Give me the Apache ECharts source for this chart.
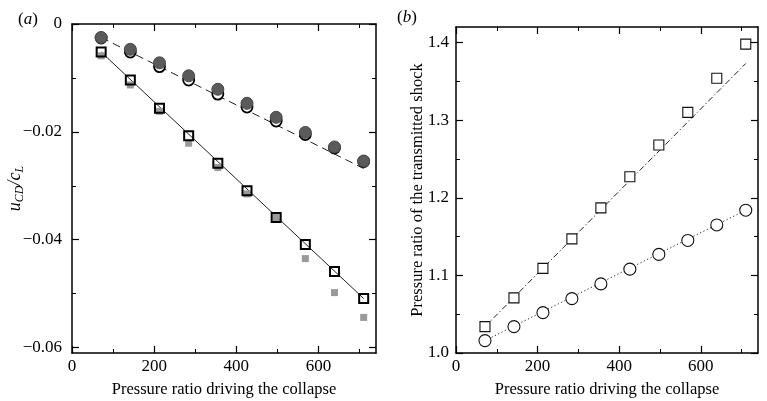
<!DOCTYPE html>
<html><head><meta charset="utf-8">
<script src="https://cdn.jsdelivr.net/npm/echarts@6/dist/echarts.min.js"></script>
<style>html,body{margin:0;padding:0;background:#fff}#c{width:767px;height:401px}</style>
</head><body><div id="c"></div>
<script>
// ---- data ----
const pressureRatio = [71, 142, 213, 284, 355, 426, 497, 568, 639, 710];
// panel (a)
const aCircleFilled = [-0.0025, -0.0047, -0.0072, -0.0096, -0.0121, -0.0147, -0.0173, -0.0201, -0.0228, -0.0254];
const aCircleOpen   = [-0.0026, -0.0052, -0.0079, -0.0104, -0.0130, -0.0154, -0.0180, -0.0205, -0.0230, -0.0255];
const aSquareOpen   = [-0.0052, -0.0104, -0.0156, -0.0207, -0.0258, -0.0309, -0.0359, -0.0409, -0.0459, -0.0509];
const aSquareFilled = [-0.0059, -0.0113, -0.0162, -0.0221, -0.0266, -0.0315, -0.0359, -0.0435, -0.0498, -0.0544];
const aFitCircleX = [71, 710];
const aFitCircleY = [-0.0025, -0.0268];
const aFitSquareX = [71, 710];
const aFitSquareY = [-0.0052, -0.0509];
// panel (b)
const bSquare = [1.034, 1.071, 1.109, 1.147, 1.187, 1.227, 1.268, 1.310, 1.354, 1.398];
const bCircle = [1.016, 1.034, 1.052, 1.070, 1.089, 1.108, 1.127, 1.145, 1.165, 1.184];
const bFitSquareX = [71, 710];
const bFitSquareY = [1.034, 1.373];
const bFitCircleX = [71, 710];
const bFitCircleY = [1.016, 1.184];
// ticks
const xMajorTicks = [0, 200, 400, 600];
const xMinorTicks = [100, 300, 500, 700];
const aYMajorTicks = [0, -0.02, -0.04, -0.06];
const aYMinorTicks = [-0.01, -0.03, -0.05];
const bYMajorTicks = [1.0, 1.1, 1.2, 1.3, 1.4];
const bYMinorTicks = [1.05, 1.15, 1.25, 1.35];
const xTitle = 'Pressure ratio driving the collapse';
const bYTitle = 'Pressure ratio of the transmitted shock';

// ---- chart ----
const FONT = 'Liberation Serif';
const BLACK = '#000';
const fmtX = v => String(v);
const fmtA = v => (Math.abs(v) < 1e-12 ? '0' : '\u2212' + Math.abs(v).toFixed(2));
const fmtB = v => v.toFixed(1);

function axisPair(grid, pos, min, max, minorTicks, majorTicks, labelOpt, nameOpt) {
  const common = {gridIndex: grid, type: 'value', min: min, max: max, position: pos,
    splitLine: {show: false}, axisPointer: {show: false}};
  const minor = Object.assign({}, common, {
    axisLine: {show: true, onZero: false, lineStyle: {color: BLACK, width: 1.5}},
    axisTick: {show: true, inside: true, length: 4, customValues: minorTicks, lineStyle: {color: BLACK, width: 1}},
    axisLabel: labelOpt ? Object.assign({customValues: majorTicks}, labelOpt) : {show: false}
  }, nameOpt || {});
  const major = Object.assign({}, common, {
    axisLine: {show: false, onZero: false},
    axisTick: {show: true, inside: true, length: 7, customValues: majorTicks, lineStyle: {color: BLACK, width: 1.2}},
    axisLabel: {show: false}
  });
  return [minor, major];
}

const nameStyle = {fontFamily: FONT, fontSize: 16.5, color: BLACK};
const labelBase = {show: true, fontFamily: FONT, fontSize: 17, color: BLACK};

const xAxes = [];
const yAxes = [];
[0, 1].forEach(g => {
  xAxes.push(...axisPair(g, 'bottom', 0, 740, xMinorTicks, xMajorTicks,
    Object.assign({}, labelBase, {formatter: fmtX, margin: 5}),
    {name: xTitle, nameLocation: 'middle', nameGap: 28, nameMoveOverlap: false, nameTextStyle: nameStyle}));
  xAxes.push(...axisPair(g, 'top', 0, 740, xMinorTicks, xMajorTicks, null, null));
});
// panel a y axes
yAxes.push(...axisPair(0, 'left', -0.061, 0, aYMinorTicks, aYMajorTicks,
  Object.assign({}, labelBase, {formatter: fmtA, margin: 10}),
  {name: '{i|u}{s|CD}{i|/c}{s|L}', nameLocation: 'middle', nameGap: 46, nameRotate: 90, nameMoveOverlap: false,
   nameTextStyle: {fontFamily: FONT, fontSize: 17, color: BLACK,
     rich: {i: {fontFamily: FONT, fontStyle: 'italic', fontSize: 18, color: BLACK, lineHeight: 22, verticalAlign: 'middle'},
            s: {fontFamily: FONT, fontStyle: 'italic', fontSize: 12, color: BLACK, lineHeight: 22, verticalAlign: 'bottom', padding: [8, 0, 0, 0]}}}}));
yAxes.push(...axisPair(0, 'right', -0.061, 0, aYMinorTicks, aYMajorTicks, null, null));
// panel b y axes
yAxes.push(...axisPair(1, 'left', 1.0, 1.42, bYMinorTicks, bYMajorTicks,
  Object.assign({}, labelBase, {formatter: fmtB, margin: 7}),
  {name: bYTitle, nameLocation: 'middle', nameGap: 30, nameRotate: 90, nameMoveOverlap: false, nameTextStyle: nameStyle}));
yAxes.push(...axisPair(1, 'right', 1.0, 1.42, bYMinorTicks, bYMajorTicks, null, null));

const pts = (xs, ys) => xs.map((x, i) => [x, ys[i]]);

const series = [
  // panel a
  {type: 'line', xAxisIndex: 0, yAxisIndex: 0, data: pts(aFitCircleX, aFitCircleY), showSymbol: false, silent: true,
   lineStyle: {color: '#222', width: 1, type: [8, 5]}, z: 1},
  {type: 'line', xAxisIndex: 0, yAxisIndex: 0, data: pts(aFitSquareX, aFitSquareY), showSymbol: false, silent: true,
   lineStyle: {color: '#222', width: 1, type: 'solid'}, z: 1},
  {type: 'scatter', xAxisIndex: 0, yAxisIndex: 0, data: pts(pressureRatio, aSquareFilled), symbol: 'rect', symbolSize: 7,
   itemStyle: {color: '#9a9a9a', opacity: 1}, z: 2},
  {type: 'scatter', xAxisIndex: 0, yAxisIndex: 0, data: pts(pressureRatio, aSquareOpen), symbol: 'rect', symbolSize: 9,
   itemStyle: {color: 'rgba(255,255,255,0)', borderColor: BLACK, borderWidth: 2, opacity: 1}, z: 3},
  {type: 'scatter', xAxisIndex: 0, yAxisIndex: 0, data: pts(pressureRatio, aCircleOpen), symbol: 'circle', symbolSize: 11,
   itemStyle: {color: '#fff', borderColor: BLACK, borderWidth: 1.8, opacity: 1}, z: 2},
  {type: 'scatter', xAxisIndex: 0, yAxisIndex: 0, data: pts(pressureRatio, aCircleFilled), symbol: 'circle', symbolSize: 12,
   itemStyle: {color: '#5a5a5a', borderColor: '#4a4a4a', borderWidth: 1, opacity: 1}, z: 3},
  // panel b
  {type: 'line', xAxisIndex: 4, yAxisIndex: 4, data: pts(bFitSquareX, bFitSquareY), showSymbol: false, silent: true,
   lineStyle: {color: '#222', width: 1, type: [6, 2.5, 1.2, 2.5]}, z: 1},
  {type: 'line', xAxisIndex: 4, yAxisIndex: 4, data: pts(bFitCircleX, bFitCircleY), showSymbol: false, silent: true,
   lineStyle: {color: '#222', width: 1, type: [1.2, 2.5]}, z: 1},
  {type: 'scatter', xAxisIndex: 4, yAxisIndex: 4, data: pts(pressureRatio, bSquare), symbol: 'rect', symbolSize: 10,
   itemStyle: {color: '#fff', borderColor: '#111', borderWidth: 1.1, opacity: 1}, z: 3},
  {type: 'scatter', xAxisIndex: 4, yAxisIndex: 4, data: pts(pressureRatio, bCircle), symbol: 'circle', symbolSize: 12,
   itemStyle: {color: '#fff', borderColor: '#111', borderWidth: 1.1, opacity: 1}, z: 3}
];

const chart = echarts.init(document.getElementById('c'), null, {renderer: 'canvas'});
chart.setOption({
  backgroundColor: '#fff',
  animation: false,
  grid: [
    {left: 72, top: 24, width: 304, height: 329, containLabel: false, outerBoundsMode: 'none'},
    {left: 456, top: 27, width: 302, height: 326, containLabel: false, outerBoundsMode: 'none'}
  ],
  xAxis: xAxes,
  yAxis: yAxes,
  graphic: [
    {type: 'text', left: 18, top: 11, style: {text: '({i|a})', font: '17px "Liberation Serif"', fill: BLACK,
      rich: {i: {fontStyle: 'italic', fontFamily: FONT, fontSize: 17, fill: BLACK}}}},
    {type: 'text', left: 397, top: 9, style: {text: '({i|b})', font: '17px "Liberation Serif"', fill: BLACK,
      rich: {i: {fontStyle: 'italic', fontFamily: FONT, fontSize: 17, fill: BLACK}}}}
  ],
  series: series
});
</script></body></html>
